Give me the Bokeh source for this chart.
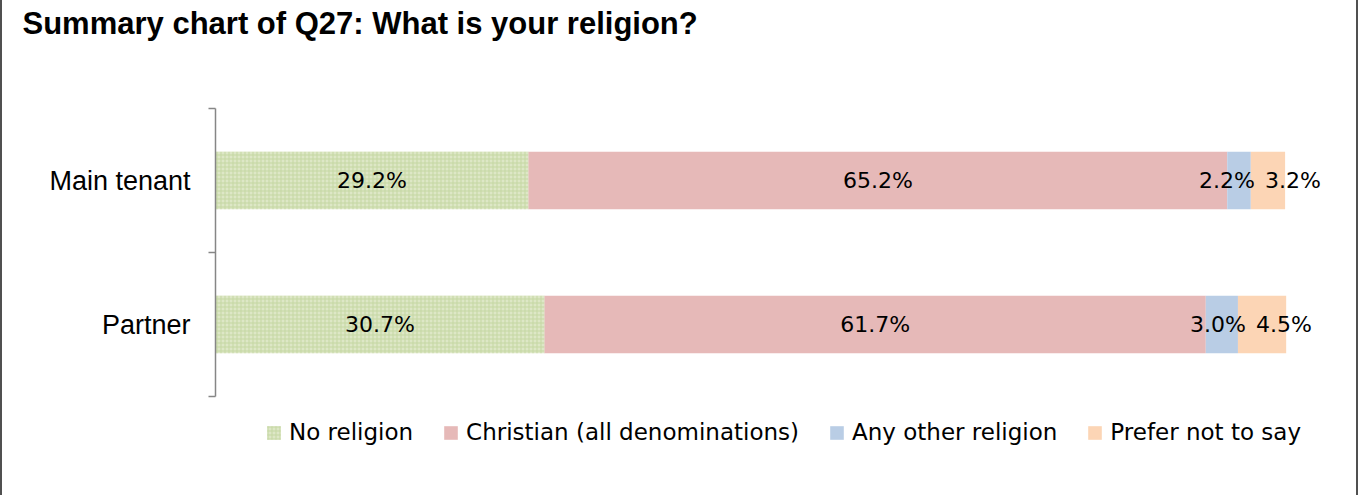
from bokeh.plotting import figure
from bokeh.models import (ColumnDataSource, Range1d, FixedTicker, LabelSet,
                          Legend, LegendItem, Title)
from bokeh.core.properties import value
from bokeh.embed import file_html
from bokeh.resources import INLINE

# ---- data ----
categories = ["Main tenant", "Partner"]
series = ["No religion", "Christian (all denominations)", "Any other religion", "Prefer not to say"]
no_religion = [29.2, 30.7]
christian = [65.2, 61.7]
other_religion = [2.2, 3.0]
prefer_not = [3.2, 4.5]
title_text = "Summary chart of Q27: What is your religion?"

values = [no_religion, christian, other_religion, prefer_not]
fills = ["#dde7c6", "#e6b9b8", "#b9cde5", "#fcd5b5"]
hatches = ["cross", " ", " ", " "]
# label nudges (px) to keep small-segment labels apart, per series per category
label_dx = [[0, 0], [0, 0], [-12, -4], [25, 22]]

W, H = 1358, 495
BORDER = 2
CW = W - 2 * BORDER            # canvas width inside the side borders
FL = 213                       # frame left (px, canvas)
PX_PER_PCT = 10.68             # 100 % = 1068 px
FT = 108                       # frame top (px)
PX_PER_CAT = 144
x_end = (CW - FL) / PX_PER_PCT
y_start = len(categories) - (H - FT) / PX_PER_CAT

p = figure(width=W, height=H, output_backend="svg", toolbar_location=None,
           x_range=Range1d(0, x_end), y_range=Range1d(y_start, len(categories)),
           min_border_left=FL, min_border_right=0, min_border_top=FT, min_border_bottom=0)
p.styles = {"border-left": "2px solid #505050", "border-right": "2px solid #505050"}
p.outline_line_color = None
p.grid.visible = False
p.xaxis.visible = False
p.background_fill_color = "white"
p.border_fill_color = "white"

# spacer between frame and title, then the title itself
p.add_layout(Title(text=" ", text_font_size="10px", standoff=55), "above")
p.add_layout(Title(text=title_text, align="left", vertical_align="bottom", offset=-193,
                   standoff=0, text_font="Liberation Sans", text_font_style="bold",
                   text_font_size="31px", text_color="black"), "above")

ypos = [len(categories) - i - 0.5 for i in range(len(categories))]

left = [0.0] * len(categories)
items = []
for k, (name, vals) in enumerate(zip(series, values)):
    right = [l + v for l, v in zip(left, vals)]
    src = ColumnDataSource(dict(
        y=ypos, left=left, right=right,
        mid=[(l + r) / 2 for l, r in zip(left, right)],
        txt=["%.1f%%" % v for v in vals],
        dx=label_dx[k],
    ))
    r = p.hbar(y="y", left="left", right="right", height=0.4, source=src,
               fill_color=fills[k], line_color=None,
               hatch_pattern=hatches[k], hatch_color="#c5d7a2", hatch_scale=4, hatch_weight=1)
    items.append(LegendItem(label=name, renderers=[r]))
    p.add_layout(LabelSet(x="mid", y="y", text="txt", source=src, x_offset="dx",
                          text_align="center", text_baseline="middle",
                          text_font=value("DejaVu Sans"), text_font_size=value("22px"),
                          text_color="black"))
    left = right

# y axis: labels at category centres, ticks at category boundaries
ax = p.yaxis[0]
ax.bounds = (0, len(categories))
ax.ticker = FixedTicker(ticks=ypos, minor_ticks=list(range(len(categories) + 1)))
ax.major_label_overrides = {y: c for y, c in zip(ypos, categories)}
ax.major_tick_out = 0
ax.major_tick_in = 0
ax.minor_tick_out = 7
ax.minor_tick_in = 0
ax.axis_line_color = "#868686"
ax.axis_line_width = 1.5
ax.minor_tick_line_color = "#868686"
ax.minor_tick_line_width = 1.5
ax.major_label_standoff = 18
ax.major_label_text_font = "Liberation Sans"
ax.major_label_text_font_size = "27px"
ax.major_label_text_color = "black"

legend = Legend(items=items, orientation="horizontal", location=(50, 50),
                glyph_width=17, glyph_height=17, label_standoff=7, spacing=29,
                padding=0, margin=0, border_line_color=None, background_fill_alpha=0,
                label_text_font="DejaVu Sans", label_text_font_size="23px",
                label_text_color="black")
p.add_layout(legend, "center")

open("out.html", "w").write(file_html(p, INLINE))
